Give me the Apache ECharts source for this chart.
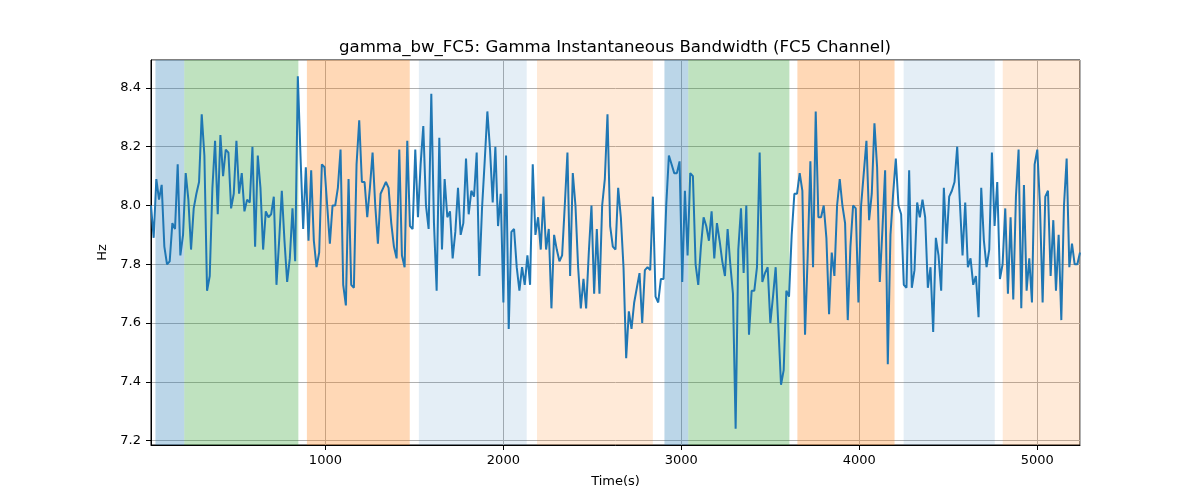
<!DOCTYPE html>
<html>
<head>
<meta charset="utf-8">
<script src="https://cdn.jsdelivr.net/npm/echarts@6/dist/echarts.min.js"></script>
<style>
  html, body { margin: 0; background: #fff; }
  #chart { width: 1200px; height: 500px; }
</style>
</head>
<body>
<div id="chart"></div>
<script>
// sampling grid of the signal (seconds)
const tStart = 20
const tStep = 15

// gamma instantaneous bandwidth, FC5 (Hz)
const hz = [
  8.00, 7.89, 8.09, 8.02, 8.07, 7.86, 7.80, 7.81, 7.94, 7.92,
  8.14, 7.83, 7.90, 8.11, 8.02, 7.85, 7.99, 8.04, 8.08, 8.31,
  8.17, 7.71, 7.76, 8.06, 8.22, 7.97, 8.24, 8.10, 8.19, 8.18,
  7.99, 8.04, 8.22, 8.04, 8.11, 7.98, 8.02, 8.01, 8.20, 7.86,
  8.17, 8.06, 7.85, 7.98, 7.96, 7.97, 8.03, 7.73, 7.88, 8.05,
  7.88, 7.74, 7.82, 7.99, 7.81, 8.44, 8.17, 7.92, 8.13, 7.88,
  8.12, 7.88, 7.79, 7.84, 8.14, 8.13, 8.00, 7.87, 8.00, 8.00,
  8.06, 8.19, 7.73, 7.66, 8.09, 7.73, 7.72, 8.14, 8.29, 8.08,
  8.08, 7.96, 8.06, 8.18, 8.00, 7.87, 8.04, 8.06, 8.08, 8.06,
  7.94, 7.86, 7.82, 8.19, 7.83, 7.79, 8.22, 7.93, 7.92, 8.19,
  7.96, 8.14, 8.27, 8.00, 7.92, 8.38, 7.94, 7.71, 8.23, 7.85,
  8.09, 7.96, 7.98, 7.82, 7.91, 8.06, 7.90, 7.94, 8.16, 7.97,
  8.05, 8.03, 8.18, 7.76, 7.99, 8.15, 8.32, 8.19, 8.01, 8.20,
  7.93, 8.04, 7.67, 8.17, 7.58, 7.91, 7.92, 7.79, 7.71, 7.79,
  7.73, 7.83, 7.73, 8.14, 7.90, 7.96, 7.85, 8.03, 7.85, 7.92,
  7.65, 7.90, 7.85, 7.81, 7.83, 8.00, 8.18, 7.76, 8.11, 8.00,
  7.79, 7.65, 7.75, 7.65, 7.84, 8.00, 7.70, 7.92, 7.70, 8.00,
  8.09, 8.31, 7.93, 7.86, 7.85, 8.06, 7.96, 7.79, 7.48, 7.64,
  7.58, 7.67, 7.72, 7.77, 7.60, 7.78, 7.79, 7.78, 8.03, 7.69,
  7.67, 7.75, 7.75, 8.00, 8.17, 8.14, 8.11, 8.11, 8.15, 7.74,
  8.05, 7.83, 8.11, 8.10, 7.80, 7.73, 7.86, 7.96, 7.93, 7.88,
  7.98, 7.82, 7.94, 7.88, 7.81, 7.76, 7.92, 7.80, 7.70, 7.24,
  7.85, 7.99, 7.77, 8.00, 7.56, 7.71, 7.71, 7.79, 8.18, 7.74,
  7.77, 7.79, 7.60, 7.69, 7.79, 7.59, 7.39, 7.44, 7.71, 7.69,
  7.90, 8.04, 8.04, 8.11, 8.05, 7.56, 7.83, 8.15, 7.79, 8.32,
  7.96, 7.96, 8.00, 7.89, 7.63, 7.84, 7.76, 8.00, 8.09, 8.00,
  7.94, 7.61, 7.86, 8.00, 7.99, 7.67, 8.00, 8.11, 8.22, 7.95,
  8.04, 8.28, 8.13, 7.74, 7.92, 8.12, 7.46, 7.90, 8.04, 8.16,
  8.00, 7.97, 7.73, 7.72, 8.12, 7.72, 7.78, 8.01, 7.96, 8.02,
  7.96, 7.72, 7.79, 7.57, 7.89, 7.83, 7.71, 8.06, 7.87, 8.03,
  8.05, 8.08, 8.20, 8.01, 7.83, 8.01, 7.79, 7.82, 7.73, 7.76,
  7.62, 8.06, 7.88, 7.79, 7.85, 8.18, 7.93, 8.08, 7.75, 7.80,
  7.99, 7.70, 7.96, 7.68, 8.03, 8.19, 7.65, 8.07, 7.71, 7.82,
  7.67, 8.14, 8.19, 8.00, 7.67, 8.03, 8.05, 7.76, 7.95, 7.71,
  7.90, 7.61, 8.00, 8.16, 7.79, 7.87, 7.80, 7.80, 7.84
]

// shaded segments (seconds) and their kind
const bandStart = [45, 207, 896, 1525, 2189, 2905, 3039, 3652, 4249, 4806]
const bandEnd = [207, 848, 1474, 2131, 2840, 3039, 3607, 4198, 4761, 5240]
const bandKind = ['a', 'b', 'c', 'd', 'e', 'a', 'b', 'c', 'd', 'e']

const kindColor = {
  a: 'rgba(31,119,180,0.3)',
  b: 'rgba(44,160,44,0.3)',
  c: 'rgba(255,127,14,0.3)',
  d: 'rgba(31,119,180,0.12)',
  e: 'rgba(255,127,14,0.16)'
}

const points = hz.map((v, i) => [tStart + i * tStep, v])
const tEnd = tStart + (hz.length - 1) * tStep

const bands = bandStart.map((s, i) => [
  { xAxis: s, itemStyle: { color: kindColor[bandKind[i]] } },
  { xAxis: bandEnd[i] }
])

const font = 'DejaVu Sans'
const chart = echarts.init(document.getElementById('chart'))
chart.setOption({
  animation: false,
  backgroundColor: '#fff',
  title: {
    text: 'gamma_bw_FC5: Gamma Instantaneous Bandwidth (FC5 Channel)',
    left: 610,
    top: 34,
    textAlign: 'center',
    textStyle: { fontFamily: font, fontSize: 16.6, fontWeight: 'normal', color: '#000' }
  },
  grid: {
    left: 151,
    right: 120,
    top: 60,
    bottom: 55,
    show: true,
    z: 1,
    borderColor: '#000',
    borderWidth: 1,
    backgroundColor: 'transparent'
  },
  xAxis: {
    type: 'value',
    min: tStart,
    max: tEnd,
    splitNumber: 5,
    z: 1,
    name: 'Time(s)',
    nameLocation: 'middle',
    nameGap: 30,
    nameTextStyle: { fontFamily: font, fontSize: 13, color: '#000' },
    axisLine: { show: true, onZero: false, lineStyle: { color: '#000' } },
    axisTick: { show: true, length: 5, lineStyle: { color: '#000' } },
    axisLabel: { fontFamily: font, fontSize: 13, color: '#000', margin: 9, showMinLabel: false, showMaxLabel: false,
      formatter: v => String(v) },
    splitLine: { show: true, lineStyle: { color: '#b0b0b0', width: 1 } }
  },
  yAxis: {
    type: 'value',
    min: 7.185,
    max: 8.495,
    splitNumber: 6,
    z: 1,
    name: 'Hz',
    nameLocation: 'middle',
    nameGap: 40,
    nameTextStyle: { fontFamily: font, fontSize: 13, color: '#000' },
    axisLine: { show: true, lineStyle: { color: '#000' } },
    axisTick: { show: true, length: 5, lineStyle: { color: '#000' } },
    axisLabel: { fontFamily: font, fontSize: 13, color: '#000', margin: 10, showMinLabel: false, showMaxLabel: false,
      formatter: v => v.toFixed(1) },
    splitLine: { show: true, lineStyle: { color: '#b0b0b0', width: 1 } }
  },
  series: [
    {
      // carries the shaded segments only
      type: 'line',
      z: 0,
      silent: true,
      data: points,
      showSymbol: false,
      lineStyle: { opacity: 0, width: 0 },
      markArea: { silent: true, data: bands }
    },
    {
      name: 'gamma_bw_FC5',
      type: 'line',
      z: 3,
      data: points,
      showSymbol: false,
      lineStyle: { color: '#1f77b4', width: 2 },
      itemStyle: { color: '#1f77b4' }
    }
  ]
})
</script>
</body>
</html>
